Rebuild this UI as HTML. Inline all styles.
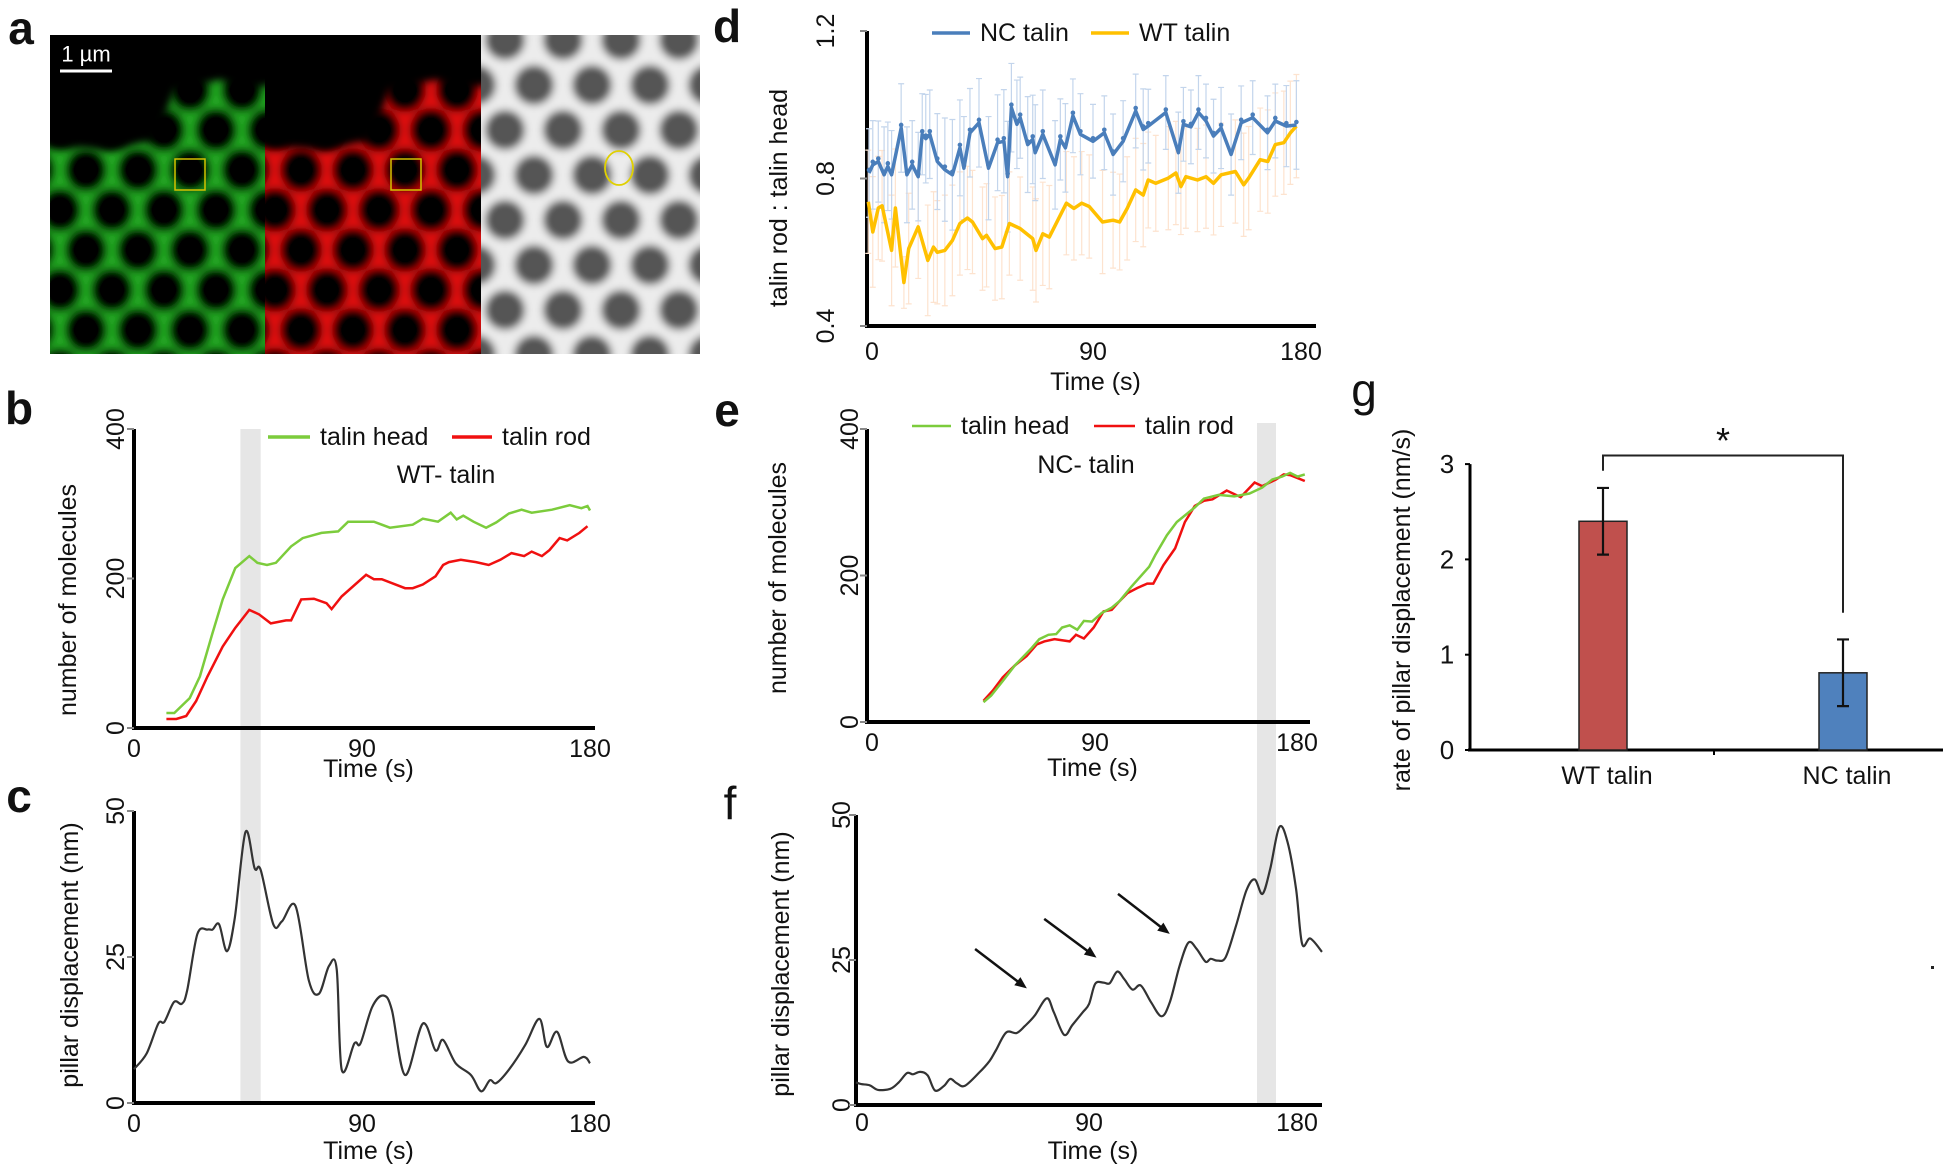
<!DOCTYPE html>
<html><head><meta charset="utf-8">
<style>
html,body{margin:0;padding:0;background:#fff;}
svg{display:block;font-family:"Liberation Sans",sans-serif;}
</style></head>
<body>
<svg id="fig" width="1950" height="1167" viewBox="0 0 1950 1167" xmlns="http://www.w3.org/2000/svg">
<defs>
<filter id="blur" x="-10%" y="-10%" width="120%" height="120%"><feGaussianBlur stdDeviation="4"/></filter>
<clipPath id="clipG"><rect x="50" y="35" width="215" height="319"/></clipPath>
<clipPath id="clipR"><rect x="265" y="35" width="216" height="319"/></clipPath>
<clipPath id="clipW"><rect x="481" y="35" width="219" height="319"/></clipPath>
</defs>
</svg>
<script>
// ---------- data ----------
const bHeadT=[12.8,15.9,22,26,31,35,40,45.5,48.7,52.5,56,62,66.6,74,80.6,84.5,94.7,101,110,114,120,125,127.4,130,134,139,143,148,153,157,165,172,176.6,179,180];
const bHeadV=[20,20,40,69,127,172,214,230,221,218,221,243,254,261,263,276,276,268,272,280,276,288,279,284,276,268,275,287,292,288,292,298,294,297,291];
const bRodT=[12.8,16.7,20.6,24.5,29,35,40,45.5,49.4,54,60,62,66,71,76,78,82,91.6,94.7,97.8,107,110,114,119,122,124.3,129,135,140,144.6,149,154,157,161,164,168,171,175.8,179];
const bRodV=[12,12,16,36,69,109,134,158,152,140,144,144,172,173,167,159,176,205,199,199,187,187,192,203,218,222,225,222,218,225,234,230,236,230,238,254,251,261,270];
const cT=[0,5,9.6,12,15.8,18.9,21,25,29,31,33.6,36.7,39.8,44,47.6,50,55,58.4,63.8,69,73,77,80,82,87,89.4,94,98.4,101.8,107,114,119,122,127,133,137,140.5,143,148,154.4,160,163,167,171.4,177.6,180];
const cV=[5.8,8.5,13.6,13.9,17.3,17,19.3,28.9,29.7,29.7,30.6,26,31.7,46.4,40.2,39.9,30.6,31.1,33.7,21,18.7,23.5,22.9,5.7,10.2,10.2,16.4,18.4,15.9,4.8,13.6,9,10.8,6.8,4.8,2,3.9,3.4,5.7,9.9,14.4,9.6,12.2,7.1,7.9,6.8];
const dNcT=[0.8,2.3,4.5,6.8,8.3,9.8,13.6,15.9,18,20.4,22,23.4,25,28,31,34,37,38.6,41,44.6,48.4,52,54.5,56,57.5,59.7,61,64,66,67,70,74.9,77,79,82,85,90,94.5,98,102,107,110,112,119,124,126,129,132,135,138,141,145,149,153.6,159.5,162.6,167,171];
const dNcV=[0.815,0.837,0.846,0.81,0.833,0.81,0.937,0.81,0.837,0.805,0.92,0.908,0.92,0.846,0.824,0.81,0.883,0.828,0.924,0.951,0.828,0.897,0.901,0.805,0.992,0.947,0.965,0.892,0.906,0.87,0.92,0.837,0.906,0.883,0.97,0.92,0.901,0.924,0.865,0.901,0.983,0.933,0.942,0.979,0.87,0.947,0.94,0.979,0.956,0.915,0.937,0.865,0.951,0.965,0.924,0.956,0.942,0.945];
const dNcErr=[0.12,0.12,0.11,0.13,0.12,0.12,0.12,0.13,0.12,0.12,0.11,0.12,0.12,0.13,0.14,0.15,0.13,0.14,0.12,0.12,0.14,0.13,0.14,0.15,0.12,0.12,0.11,0.13,0.12,0.13,0.12,0.12,0.11,0.12,0.1,0.11,0.1,0.1,0.11,0.11,0.1,0.11,0.1,0.1,0.11,0.1,0.1,0.1,0.1,0.1,0.11,0.11,0.1,0.1,0.1,0.1,0.11,0.12];
const dWtT=[0.5,2.3,4.5,6,9.8,11.3,14.7,16.6,20.4,24.2,26.5,28,31,34,37,40,42,46,47.6,51,53.7,56.7,61,66,67.3,70,72.6,79.4,82.4,85.5,88.5,93.8,98,100.6,103.6,107,110,112,115,120,123,125,127,131.6,135,138,141,146.7,150,152,156.6,159.6,162.6,166,168.6,171];
const dWtV=[0.737,0.655,0.72,0.726,0.605,0.72,0.518,0.61,0.669,0.578,0.614,0.6,0.605,0.632,0.678,0.693,0.682,0.637,0.646,0.61,0.614,0.678,0.664,0.637,0.605,0.65,0.641,0.733,0.719,0.733,0.724,0.682,0.687,0.682,0.719,0.769,0.755,0.796,0.787,0.801,0.815,0.778,0.805,0.796,0.805,0.787,0.81,0.819,0.783,0.801,0.851,0.846,0.892,0.897,0.924,0.942];
const dWtErr=[0.14,0.15,0.14,0.15,0.15,0.16,0.07,0.15,0.14,0.15,0.15,0.14,0.15,0.15,0.14,0.14,0.14,0.14,0.14,0.14,0.14,0.14,0.14,0.14,0.14,0.14,0.14,0.14,0.14,0.14,0.14,0.14,0.13,0.13,0.14,0.14,0.14,0.13,0.13,0.14,0.14,0.13,0.14,0.14,0.14,0.14,0.14,0.14,0.14,0.14,0.14,0.14,0.14,0.14,0.14,0.14];
const eHeadT=[46,49,53.6,58.3,65,68,71.6,74.7,77,80,83,85.6,88.8,92.7,96.6,99.7,104.4,111.4,113.8,118.4,122.3,129.4,133,138.8,145,151,156,160,163.8,167,170,172.8];
const eHeadV=[27,36,56,77,101,113,119,120,129,132,126,138,137,149,156,165,185,212,228,255,273,293,305,310,308,312,320,331,335,340,335,338];
const eRodT=[46,49.7,53.6,58.3,63,67,70,74,80,82.5,85.6,89.5,93.4,96.6,99.7,102.8,106.7,110.6,113,117,121.6,125.5,129.4,133,136.4,142,147.5,153,156,161.4,164.5,167,172.8];
const eRodV=[29,43,61,77,90,106,110,113,110,119,114,129,151,153,165,176,183,189,189,214,237,273,295,302,304,316,307,327,322,331,338,337,329];
const fT=[0,2,5.3,8.5,13.3,16.5,19.7,22,24.8,27.7,30.5,34,36.4,38.8,42,47.6,51.6,54,58,62,65.2,69,73.7,76.4,80.4,83.6,87.6,90,92.4,95.6,98,100.9,103.6,106.8,110,114,118,121.2,125,128.4,131.6,135,137,139.6,142.8,146.8,150.8,154,157,160,163.5,166.7,170,172.3,175.5,180];
const fV=[3.9,3.6,3.4,2.6,2.8,3.9,5.5,5.3,5.7,5.1,2.5,3.3,4.5,3.8,3.3,5.6,7.6,9.4,12.5,12.4,13.6,15.4,18.4,16,12.1,13.8,16,17.4,20.9,21.1,21,23,21.7,19.9,20.6,17.7,15.3,17.7,24,28,26.9,24.7,25.2,24.9,25.5,30.9,37,38.9,36.4,40.7,47.9,45.3,37.2,27.8,28.7,26.4];
const fArrowFromT=[46,72.7,101.2], fArrowFromV=[26.9,32.1,36.4];
const fArrowToT=[66,92.9,121.2], fArrowToV=[20.1,25.4,29.5];
const gCats=["WT talin","NC talin"];
const gVals=[2.40,0.81];
const gErr=[0.35,0.35];
const gTicks=[0,1,2,3];

// ---------- helpers ----------
const NS="http://www.w3.org/2000/svg";
const svg=document.getElementById('fig');
function mk(tag,attrs,parent){const e=document.createElementNS(NS,tag);for(const k in attrs)e.setAttribute(k,attrs[k]);(parent||svg).appendChild(e);return e;}
function txt(x,y,s,size,opts){opts=opts||{};const e=mk('text',{x:x,y:y,'font-size':size,'text-anchor':opts.anchor||'middle','dominant-baseline':'central',fill:opts.fill||'#111','font-weight':opts.bold?'bold':'normal'});if(opts.rot)e.setAttribute('transform','rotate(-90 '+x+' '+y+')');e.textContent=s;return e;}
function pathFrom(xs,ys){let d='';for(let i=0;i<xs.length;i++)d+=(i?'L':'M')+xs[i].toFixed(1)+' '+ys[i].toFixed(1);return d;}
function smoothPath(xs,ys){let d='M'+xs[0]+' '+ys[0];for(let i=0;i<xs.length-1;i++){const x0=xs[Math.max(0,i-1)],y0=ys[Math.max(0,i-1)],x1=xs[i],y1=ys[i],x2=xs[i+1],y2=ys[i+1],x3=xs[Math.min(xs.length-1,i+2)],y3=ys[Math.min(xs.length-1,i+2)];d+='C'+(x1+(x2-x0)/6).toFixed(1)+' '+(y1+(y2-y0)/6).toFixed(1)+' '+(x2-(x3-x1)/6).toFixed(1)+' '+(y2-(y3-y1)/6).toFixed(1)+' '+x2.toFixed(1)+' '+y2.toFixed(1);}return d;}

// ---------- panel a (micrographs) ----------
(function(){
  const g=mk('g',{});
  
  
  mk('rect',{x:50,y:35,width:431,height:319,fill:'#000'},g);
  const chans=[{clip:'clipG',x0:50,col:'#22a822'},{clip:'clipR',x0:265,col:'#e01010'}];
  chans.forEach(c=>{
    const cg=mk('g',{'clip-path':'url(#'+c.clip+')'},g);
    const inner=mk('g',{filter:'url(#blur)'},cg);
    mk('rect',{x:c.x0-20,y:20,width:260,height:350,fill:c.col},inner);
    for(let r=0;r<9;r++)for(let k=-1;k<6;k++){
      const cx=c.x0+k*52+(r%2?26:0)+10, cy=50+r*40;
      mk('ellipse',{cx:cx,cy:cy,rx:21,ry:22,fill:'#000'},inner);
    }
    mk('polygon',{points:(c.x0-10)+',25 '+(c.x0+230)+',25 '+(c.x0+230)+',85 '+(c.x0+195)+',88 '+(c.x0+170)+',80 '+(c.x0+125)+',90 '+(c.x0+105)+',140 '+(c.x0+60)+',150 '+(c.x0-10)+',145',fill:'#000',filter:'url(#blur)'},cg);
  });
  const wg=mk('g',{'clip-path':'url(#clipW)'},g);
  const wi=mk('g',{filter:'url(#blur)'},wg);
  mk('rect',{x:470,y:20,width:240,height:350,fill:'#ececec'},wi);
  for(let r=0;r<8;r++)for(let k=-1;k<6;k++){
    mk('circle',{cx:505+k*58+(r%2?29:0),cy:40+r*45,r:20,fill:'#555'},wi);
  }
  mk('rect',{x:175,y:159,width:30,height:31,fill:'none',stroke:'#d4c200','stroke-width':1.5},g);
  mk('rect',{x:391,y:159,width:30,height:31,fill:'none',stroke:'#d4c200','stroke-width':1.5},g);
  mk('ellipse',{cx:619,cy:168,rx:14,ry:17,fill:'none',stroke:'#e0d000','stroke-width':1.8},g);
  const sb=mk('line',{x1:60,y1:71,x2:112,y2:71,stroke:'#fff','stroke-width':3});
  
  
  const st=txt(86,54,'1 µm',22,{fill:'#fff'});
  
  
})();

// panel letters
[['a',21,28],['b',19,408],['c',19,796],['d',727,26],['e',727,410],['f',730,803],['g',1364,390]].forEach(p=>{
  const t=txt(p[1],p[2],p[0],46,{bold:p[0]!=='f'&&p[0]!=='g'});
  
  
});

// generic axes
function axes(name,ox,oy,top,right,xt,yt,xLab,yLab,yTitleX,yTitleY,xLabY,xTitleY,yLabX){
  const ya=mk('line',{x1:ox,y1:top,x2:ox,y2:oy,stroke:'#000','stroke-width':4});
  
  
  const xa=mk('line',{x1:ox-2,y1:oy,x2:right,y2:oy,stroke:'#000','stroke-width':4});
  
  
  yt.forEach(o=>{const t=txt(yLabX,o.y,o.s,25,{rot:true});
    
    
    mk('line',{x1:ox-7,y1:o.y,x2:ox,y2:o.y,stroke:'#888','stroke-width':2});});
  xt.forEach(o=>{const t=txt(o.x,xLabY,o.s,25);
    
    });
  const xt2=txt(ox+ (right-ox)/2+4,xTitleY,xLab,25);
  
  
  const yt2=txt(yTitleX,yTitleY,yLab,25,{rot:true});
  
  
}
function legendEntry(name,x1,x2,y,col,label,w){
  const l=mk('line',{x1:x1,y1:y,x2:x2,y2:y,stroke:col,'stroke-width':w||3.5});
  
  
  const t=txt(x2+10,y,label,25,{anchor:'start'});
  
  
}

// ---------- panels b & c ----------
const bx=t=>134+t*(456/180), by=v=>728-v*(299/400), cy=v=>1103-v*(292/50);
const bandBC=mk('rect',{x:bx(42),y:429,width:bx(50)-bx(42),height:1103-429,fill:'#e6e6e6'});


const bandE=mk('rect',{x:1257,y:423,width:19,height:1105-423,fill:'#e6e6e6'});



axes('panel-b',134,728,429,595,[{x:bx(0),s:'0'},{x:bx(90),s:'90'},{x:bx(180),s:'180'}],
  [{y:by(0),s:'0'},{y:by(200),s:'200'},{y:by(400),s:'400'}],'Time (s)','number of molecules',68,600,749,769,116);
let p=mk('path',{d:pathFrom(bHeadT.map(bx),bHeadV.map(by)),fill:'none',stroke:'#7ccc3c','stroke-width':2.5});


p=mk('path',{d:pathFrom(bRodT.map(bx),bRodV.map(by)),fill:'none',stroke:'#f01010','stroke-width':2.5});


legendEntry('b-legend-talin-head',268,310,437,'#7ccc3c','talin head');
legendEntry('b-legend-talin-rod',452,492,437,'#f01010','talin rod');
p=txt(446,475,'WT- talin',25);



axes('panel-c',134,1103,811,595,[{x:bx(0),s:'0'},{x:bx(90),s:'90'},{x:bx(180),s:'180'}],
  [{y:cy(0),s:'0'},{y:cy(25),s:'25'},{y:cy(50),s:'50'}],'Time (s)','pillar displacement (nm)',70,955,1124,1151,116);
p=mk('path',{d:smoothPath(cT.map(bx),cV.map(cy)),fill:'none',stroke:'#333','stroke-width':2.2});



// ---------- panel d ----------
const dx=t=>867+t*(226/90), dy=v=>326-(v-0.4)*(295/0.8);
axes('panel-d',867,326,31,1316,[{x:dx(0)+5,s:'0'},{x:dx(90),s:'90'},{x:1301,s:'180'}],
  [{y:dy(0.4),s:'0.4'},{y:dy(0.8),s:'0.8'},{y:dy(1.2),s:'1.2'}],'Time (s)','talin rod : talin head',779,198,352,382,826);
dWtT.forEach((t,i)=>{
  const x=dx(t),e=dWtErr[i];
  const l=mk('path',{d:'M'+x+' '+dy(dWtV[i]-e)+'V'+dy(dWtV[i]+e)+'M'+(x-3)+' '+dy(dWtV[i]+e)+'h6M'+(x-3)+' '+dy(dWtV[i]-e)+'h6',stroke:'#fde3cf','stroke-width':1.2,fill:'none'});
  
  
});
dNcT.forEach((t,i)=>{
  const x=dx(t),e=dNcErr[i];
  const l=mk('path',{d:'M'+x+' '+dy(dNcV[i]-e)+'V'+dy(dNcV[i]+e)+'M'+(x-3)+' '+dy(dNcV[i]+e)+'h6M'+(x-3)+' '+dy(dNcV[i]-e)+'h6',stroke:'#c3d5ec','stroke-width':1.2,fill:'none'});
  
  
});
p=mk('path',{d:pathFrom(dWtT.map(dx),dWtV.map(dy)),fill:'none',stroke:'#ffc000','stroke-width':3.5,'stroke-linejoin':'round'});


p=mk('path',{d:pathFrom(dNcT.map(dx),dNcV.map(dy)),fill:'none',stroke:'#4a7ebb','stroke-width':3.5,'stroke-linejoin':'round'});


dNcT.forEach((t,i)=>{const c=mk('circle',{cx:dx(t),cy:dy(dNcV[i])-3,r:2.3,fill:'#4a7ebb'});
  
  });
legendEntry('d-legend-nc-talin',932,970,33,'#4a7ebb','NC talin');
legendEntry('d-legend-wt-talin',1091,1129,33,'#ffc000','WT talin');

// ---------- panel e ----------
const ex=t=>867+t*(228/90), ey=v=>722-v*(293/400);
axes('panel-e',867,722,429,1310,[{x:ex(0)+5,s:'0'},{x:ex(90),s:'90'},{x:1297,s:'180'}],
  [{y:ey(0),s:'0'},{y:ey(200),s:'200'},{y:ey(400),s:'400'}],'Time (s)','number of molecules',778,578,743,768,850);
p=mk('path',{d:pathFrom(eRodT.map(ex),eRodV.map(ey)),fill:'none',stroke:'#f01010','stroke-width':2.5});


p=mk('path',{d:pathFrom(eHeadT.map(ex),eHeadV.map(ey)),fill:'none',stroke:'#7ccc3c','stroke-width':2.5});


legendEntry('e-legend-talin-head',912,951,426,'#7ccc3c','talin head',2.5);
legendEntry('e-legend-talin-rod',1094,1135,426,'#f01010','talin rod',2.5);
p=txt(1086,465,'NC- talin',25);



// ---------- panel f ----------
const fx=t=>856+t*(466/180), fy=v=>1105-v*(290/50);
axes('panel-f',856,1105,815,1322,[{x:fx(0)+6,s:'0'},{x:fx(90),s:'90'},{x:1297,s:'180'}],
  [{y:fy(0),s:'0'},{y:fy(25),s:'25'},{y:fy(50),s:'50'}],'Time (s)','pillar displacement (nm)',781,964,1123,1151,842);
p=mk('path',{d:smoothPath(fT.map(fx),fV.map(fy)),fill:'none',stroke:'#333','stroke-width':2.2});


fArrowFromT.forEach((t,i)=>{
  const x1=fx(t),y1=fy(fArrowFromV[i]),x2=fx(fArrowToT[i]),y2=fy(fArrowToV[i]);
  const a=Math.atan2(y2-y1,x2-x1),L=13;
  const g=mk('g',{});
  
  
  mk('line',{x1:x1,y1:y1,x2:x2-4*Math.cos(a),y2:y2-4*Math.sin(a),stroke:'#111','stroke-width':2.5},g);
  mk('polygon',{points:x2+','+y2+' '+(x2-L*Math.cos(a-0.4))+','+(y2-L*Math.sin(a-0.4))+' '+(x2-L*Math.cos(a+0.4))+','+(y2-L*Math.sin(a+0.4)),fill:'#111'},g);
});

// ---------- panel g ----------
const gy=v=>750-v*95.3, gx=i=>[1603,1843][i];
const gya=mk('line',{x1:1470,y1:gy(3),x2:1470,y2:750,stroke:'#000','stroke-width':3});


const gxa=mk('line',{x1:1468,y1:750,x2:1943,y2:750,stroke:'#000','stroke-width':3});


mk('line',{x1:1714,y1:750,x2:1714,y2:755,stroke:'#000','stroke-width':2});
gTicks.forEach(v=>{const t=txt(1447,gy(v),String(v),26);
  
  
  mk('line',{x1:1465,y1:gy(v),x2:1470,y2:gy(v),stroke:'#000','stroke-width':2});});
p=txt(1402,610,'rate of pillar displacement (nm/s)',25,{rot:true});


const gCols=['#c0504d','#4f81bd'];
gVals.forEach((v,i)=>{
  const r=mk('rect',{x:gx(i)-24,y:gy(v),width:48,height:750-gy(v),fill:gCols[i],stroke:'#222','stroke-width':1.5});
  
  
  const e=mk('path',{d:'M'+gx(i)+' '+gy(v-gErr[i])+'V'+gy(v+gErr[i])+'M'+(gx(i)-6)+' '+gy(v+gErr[i])+'h12M'+(gx(i)-6)+' '+gy(v-gErr[i])+'h12',stroke:'#111','stroke-width':2.2,fill:'none'});
  
  
  const t=txt(gx(i)+4,776,gCats[i],25);
  
  
});
p=mk('path',{d:'M'+gx(0)+' '+gy(2.93)+'V'+gy(3.09)+'H'+gx(1)+'V'+gy(1.44),fill:'none',stroke:'#222','stroke-width':2});


p=txt(1723,gy(3.33)+8,'*',36);


mk('rect',{x:1931,y:966,width:3,height:3,fill:'#222'});
</script>
</body></html>
